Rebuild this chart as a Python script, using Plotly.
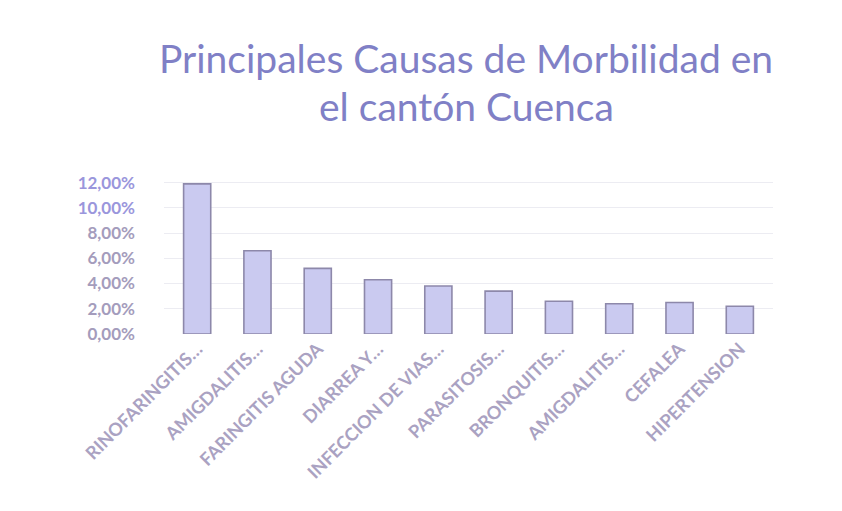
import plotly.graph_objects as go

categories = ["RINOFARINGITIS…", "AMIGDALITIS…", "FARINGITIS AGUDA", "DIARREA Y…",
              "INFECCION DE VIAS…", "PARASITOSIS…", "BRONQUITIS…", "AMIGDALITIS…",
              "CEFALEA", "HIPERTENSION"]
values = [0.119, 0.066, 0.052, 0.043, 0.038, 0.034, 0.026, 0.024, 0.025, 0.022]
y_ticks = [0, 0.02, 0.04, 0.06, 0.08, 0.10, 0.12]
y_tick_labels = ["0,00%", "2,00%", "4,00%", "6,00%", "8,00%", "10,00%", "12,00%"]
y_tick_colors = ["#a49cbc", "#a49cbc", "#a49cbc", "#a49cbc", "#a49cbc", "#9a96dc", "#9a96dc"]
title_lines = ["Principales Causas de Morbilidad en", "el cantón Cuenca"]

positions = list(range(len(categories)))

fig = go.Figure(go.Bar(
    x=positions, y=values, width=0.45,
    marker=dict(color="#cacaf0", line=dict(color="#8d88aa", width=1.6)),
))

fig.update_layout(
    width=842, height=511,
    paper_bgcolor="white", plot_bgcolor="white",
    separators=",.",
    margin=dict(l=156, r=77, t=162, b=185),
    showlegend=False,
    font=dict(family="Lato"),
)
for line, ypos in zip(title_lines, [1.68, 1.39]):
    fig.add_annotation(text=line, x=0.496, y=ypos, xref="paper", yref="paper",
                       xanchor="center", yanchor="middle", showarrow=False,
                       font=dict(family="Lato", size=39, color="#8080c6"))

fig.update_xaxes(
    range=[-0.55, 9.55], tickmode="array", tickvals=positions, ticktext=categories,
    tickangle=-45, tickfont=dict(size=18, color="#aaa2c2", weight="bold"),
    showgrid=False, zeroline=False, showline=False, ticks="",
)
fig.update_yaxes(
    range=[0, 0.13], tickmode="array", tickvals=y_ticks,
    ticktext=[f'<span style="color:{c}">{t}</span>' for t, c in zip(y_tick_labels, y_tick_colors)],
    tickfont=dict(size=17, color="#a49cbc", weight="bold"),
    showgrid=True, gridcolor="#ececf2", gridwidth=1, zeroline=False,
    ticklabelstandoff=28,
)

fig.write_html("out.html")
